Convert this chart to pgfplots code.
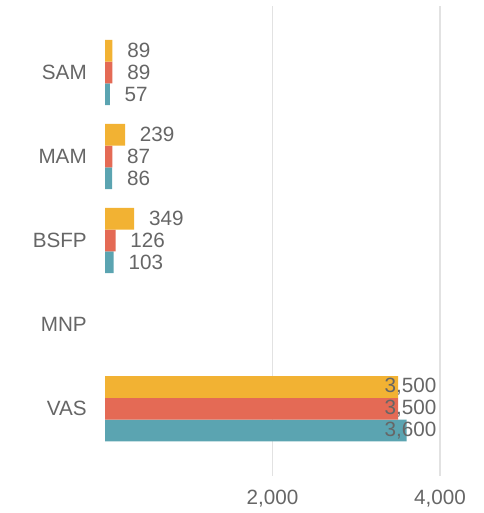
\documentclass[border=0pt]{standalone}
\usepackage{pgfplots}
\pgfplotsset{compat=1.18}
\usepackage{fontspec}
\setmainfont{Liberation Sans}
\definecolor{cyel}{HTML}{F2B233}
\definecolor{cred}{HTML}{E46A55}
\definecolor{cteal}{HTML}{5BA4B1}
\definecolor{tgray}{HTML}{666666}
\definecolor{ggray}{HTML}{E2E2E2}
\begin{document}
\begin{tikzpicture}
\path[use as bounding box] (-78.75pt,-27.75pt) rectangle (283.5pt,357pt);
\begin{axis}[
  at={(0pt,0pt)}, anchor=south west,
  scale only axis, width=251.25pt, height=352.5pt,
  xbar, bar width=16.3pt,
  xmin=0, xmax=4000, ymin=-0.80, ymax=4.79,
  axis line style={draw=none},
  tick style={draw=none},
  clip=false,
  xtick={2000,4000},
  ytick={0,1,2,3,4},
  yticklabels={VAS,MNP,BSFP,MAM,SAM},
  major tick length=0pt,
  xmajorgrids, ymajorgrids=false, grid style={ggray, line width=1pt},
  /pgf/number format/assume math mode=true,
  /pgf/number format/.cd, fixed, precision=0, 1000 sep={,},
  /pgfplots/.cd,
  ticklabel style={font=\fontsize{15.5}{18}\selectfont, text=tgray},
  yticklabel style={inner sep=0pt, anchor=east, xshift=-13.5pt},
  xticklabel style={inner sep=0pt, anchor=north, yshift=-10pt},
  every axis plot/.append style={draw=none},
  point meta=rawx,
  nodes near coords,
  visualization depends on={rawx \as \rawx},
  every node near coord/.append style={anchor=west, inner sep=0pt,
     font=\fontsize{15.5}{18}\selectfont, text=tgray,
     xshift={\rawx>3000 ? 209.5-0.0628125*\rawx : 11}},
]
\addplot[fill=cteal, bar shift=-16.3pt] coordinates {(57,4) (86,3) (103,2) (3600,0)};
\addplot[fill=cred, bar shift=0pt] coordinates {(89,4) (87,3) (126,2) (3500,0)};
\addplot[fill=cyel, bar shift=16.3pt] coordinates {(89,4) (239,3) (349,2) (3500,0)};
\end{axis}
\end{tikzpicture}
\end{document}
